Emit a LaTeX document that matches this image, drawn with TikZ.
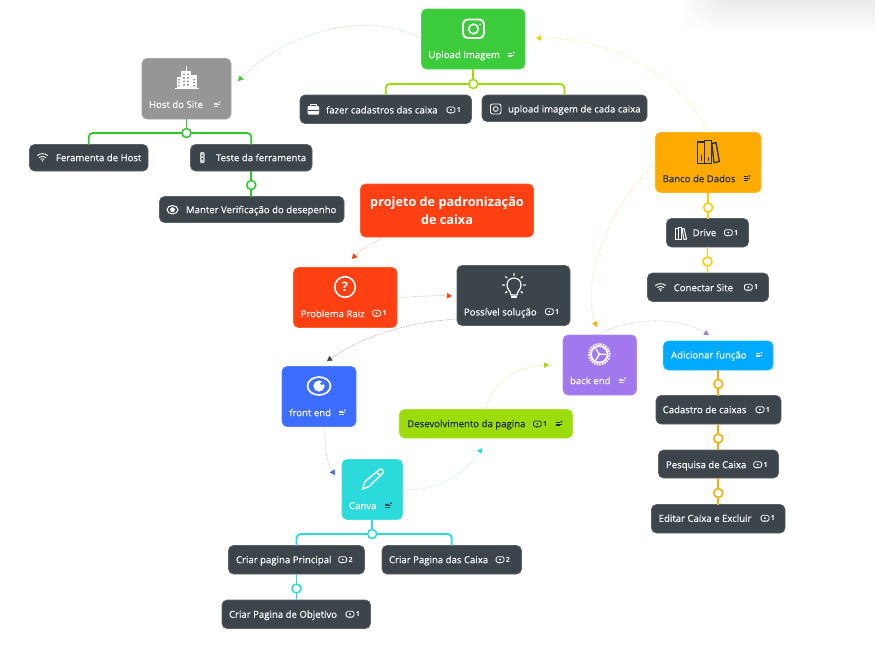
\documentclass[tikz,border=0pt]{standalone}
\usepackage{fontspec}
\setmainfont{Open Sans}
\newfontfamily\labfont[FakeBold=0.25]{Open Sans}
\usetikzlibrary{arrows.meta,calc}
\definecolor{dark}{HTML}{3D454C}
\definecolor{cgreen}{HTML}{3BCB3B}
\definecolor{cgray}{HTML}{969696}
\definecolor{cred}{HTML}{FF4013}
\definecolor{cblue}{HTML}{3D6DFF}
\definecolor{ccyan}{HTML}{2BDADA}
\definecolor{clime}{HTML}{9BDC0A}
\definecolor{cpurple}{HTML}{A178EE}
\definecolor{csky}{HTML}{00AAFF}
\definecolor{corange}{HTML}{FFAA00}
\definecolor{cyellow}{HTML}{FFCC00}
\definecolor{ink}{HTML}{1E2D3A}
\definecolor{tgreen}{HTML}{2CC82C}
\tikzset{
  box/.style={rounded corners=5pt,inner sep=0pt,outer sep=0pt,line width=.7pt},
  lab/.style={inner sep=0pt,outer sep=0pt,anchor=mid west,yshift=-.8pt,text=white,font=\labfont\fontsize{9.6}{11}\selectfont},
  num/.style={inner sep=0pt,outer sep=0pt,anchor=mid,font=\fontsize{7}{8}\selectfont\bfseries},
  junction/.style={circle,draw=#1,fill=white,line width=1.5pt,minimum size=9pt,inner sep=0pt,outer sep=0pt},
  tree/.style={draw=#1,line width=1.8pt,rounded corners=4pt},
  link/.style={draw=#1!45!white,line width=.55pt,dash pattern=on .9pt off .9pt,-{Triangle[length=5pt,width=5.5pt,color=#1,fill=#1]}},
  ic/.style={line width=1.1pt,line cap=round,line join=round},
  notei/.pic={\draw[pic actions,line width=.8pt](-3.2,-1.8)--(.8,-1.8)(-3.2,0)--(2.8,0)(-3.2,1.8)--(1.2,1.8);\fill[pic actions](2.8,-2.4) circle(.7pt);},
  cmti/.pic={\draw[pic actions,line width=.8pt,rounded corners=1.5pt](-3.9,-3)rectangle(3.9,2.8);\fill[pic actions](-1,4)--(1,2.6)--(-1,2.6)--cycle;\fill[pic actions](0,-.1) circle(1pt);},
  wifi/.pic={\draw[ic,white,line width=.9pt](-5,-2) .. controls (-2,-4.5) and (2,-4.5) .. (5,-2);\draw[ic,white,line width=.9pt](-3.3,0) .. controls (-1.5,-1.6) and (1.5,-1.6) .. (3.3,0);\draw[ic,white,line width=.9pt](-1.6,1.8) .. controls (-.7,1) and (.7,1) .. (1.6,1.8);\fill[white](0,3.3) circle(.8pt);},
  smalleye/.pic={\draw[white,line width=1pt](0,0) ellipse(5.5pt and 4.2pt);\fill[white](0,0) circle(2.4pt);},
}
\newcommand{\bx}[6]{%
  \pgfmathsetmacro{\cxx}{(#2+#4)/2}\pgfmathsetmacro{\cyy}{(#3+#5)/2}%
  \pgfmathsetmacro{\www}{#4-#2}\pgfmathsetmacro{\hhh}{#5-#3}%
  \node[box,fill=#6,draw=#6!85!white,minimum width=\www pt,minimum height=\hhh pt] (#1) at (\cxx,\cyy) {};}
\newcommand{\tx}[4]{\node[lab] (#1) at (#2,#3) {#4};}
\newcommand{\cm}[5][white]{\pic[#1] at (#3,#4) {cmti};\pgfmathsetmacro{\nxx}{#3+7.8}\node[num,text=#1] (#2) at (\nxx,#4) {#5};}
\newcommand{\nt}[3][white!80!gray]{\pic[#1,draw=#1,fill=#1] at (#2,#3) {notei};}
\begin{document}
\begin{tikzpicture}[x=1pt,y=-1pt]
\useasboundingbox (0,0) rectangle (875,664);
\fill[white] (0,0) rectangle (875,664);
% faint shadow, top right
\shade[top color=black!8,bottom color=white] (675,0) rectangle (875,34);
\foreach \i in {0,...,19}{\fill[white,opacity=1-\i/20] (675+2.5*\i,0) rectangle +(2.6,34);}
% boxes
\bx{upload}{421.5}{9}{525}{69}{cgreen}
\bx{fazer}{300}{95}{471.5}{123.5}{dark}
\bx{upimg}{482}{95}{647}{121.5}{dark}
\bx{host}{142}{58.5}{231}{119}{cgray}
\bx{ferhost}{29.5}{144.5}{148}{171}{dark}
\bx{teste}{190.5}{144.5}{312}{171}{dark}
\bx{manter}{159.5}{196.5}{344}{222.5}{dark}
\bx{projeto}{360.5}{184}{533.5}{237}{cred}
\bx{problema}{293.5}{267.5}{397}{327.5}{cred}
\bx{solucao}{457}{265.5}{570}{325.5}{dark}
\bx{front}{282}{366.5}{356}{426.5}{cblue}
\bx{canva}{342}{459.5}{402.5}{519.5}{ccyan}
\bx{desenv}{399.5}{409.5}{572.5}{438}{clime}
\bx{back}{563}{335}{636.5}{395}{cpurple}
\bx{adic}{663.5}{341}{773}{370}{csky}
\bx{banco}{655.5}{132.5}{761}{192.5}{corange}
\bx{drive}{666.5}{218.5}{748.5}{247}{dark}
\bx{conectar}{647.5}{273}{768.5}{301.5}{dark}
\bx{cadastro}{656}{395.5}{781}{424}{dark}
\bx{pesquisa}{658.5}{450}{778.5}{478}{dark}
\bx{editar}{651.5}{504.5}{785}{533}{dark}
\bx{cprinc}{228.5}{545.5}{364.5}{574}{dark}
\bx{ccaixa}{382}{545.5}{521.5}{574}{dark}
\bx{cobj}{222}{600}{370.5}{628.5}{dark}
% junctions
\node[junction=clime] (j1) at (upload.south |- 0,84) {};
\node[junction=tgreen] (j2) at (186.5,133) {};
\node[junction=tgreen] (j3) at (teste.south |- 0,185) {};
\node[junction=cyellow] (j4) at (banco.south |- 0,207.5) {};
\node[junction=cyellow] (j5) at (drive.south |- 0,261.5) {};
\node[junction=corange] (j6) at (adic.south |- 0,384) {};
\node[junction=corange] (j7) at (718.3,438.5) {};
\node[junction=corange] (j8) at (718.3,493) {};
\node[junction=ccyan] (j9) at (372.2,534) {};
\node[junction=ccyan] (j10) at (cprinc.south |- 0,588.5) {};
% tree lines
\draw[tree=clime] (upload.south) -- (j1.north);
\draw[tree=clime] (j1.west) -| (fazer.north);
\draw[tree=clime] (j1.east) -| (upimg.north);
\draw[tree=tgreen] (host.south -| j2) -- (j2.north);
\draw[tree=tgreen] (j2.west) -| (ferhost.north);
\draw[tree=tgreen] (j2.east) -| (teste.north);
\draw[tree=tgreen] (teste.south) -- (j3.north) (j3.south) -- (manter.north -| j3);
\draw[tree=cyellow] (banco.south -| j4) -- (j4.north) (j4.south) -- (drive.north -| j4);
\draw[tree=cyellow] (drive.south -| j5) -- (j5.north) (j5.south) -- (conectar.north -| j5);
\draw[tree=corange] (adic.south -| j6) -- (j6.north) (j6.south) -- (cadastro.north -| j6);
\draw[tree=corange] (cadastro.south -| j7) -- (j7.north) (j7.south) -- (pesquisa.north -| j7);
\draw[tree=corange] (pesquisa.south -| j8) -- (j8.north) (j8.south) -- (editar.north -| j8);
\draw[tree=ccyan] (canva.south -| j9) -- (j9.north);
\draw[tree=ccyan] (j9.west) -| (cprinc.north);
\draw[tree=ccyan] (j9.east) -| (ccaixa.north);
\draw[tree=ccyan] (cprinc.south -| j10) -- (j10.north) (j10.south) -- (cobj.north -| j10);
% free ends of the links
\coordinate (e1) at (238,81);
\coordinate (e2) at (536,38);
\coordinate (e3) at (596.5,327);
\coordinate (e4) at (709,335);
\coordinate (e5) at (352,259);
\coordinate (e6) at (452,296);
\coordinate (e7) at (327,361);
\coordinate (e8) at (335,475);
\coordinate (e9) at (482,448);
\coordinate (e10) at (549,365);
% links
\draw[link=cgreen] (upload.west) .. controls (375,12) and (295,25) .. (e1);
\draw[link=cyellow] (banco.north) .. controls (680,75) and (610,37) .. (e2);
\draw[link=corange] (banco.west) .. controls (610,205) and (580,280) .. (e3);
\draw[link=cpurple] ([xshift=-3.5pt]back.north) .. controls (630,318) and (675,315) .. (e4);
\draw[link=cred] ([xshift=-63pt]projeto.south) .. controls (372,243) and (360,250) .. (e5);
\draw[link=cred] (problema.east) .. controls (415,297) and (435,295) .. (e6);
\draw[link=dark] ([yshift=-23.5pt]solucao.west) .. controls (410,322) and (365,335) .. (e7);
\draw[link=cblue] ([xshift=6pt]front.south) .. controls (325,445) and (326,462) .. (e8);
\draw[link=ccyan] (canva.east) .. controls (435,492) and (465,475) .. (e9);
\draw[link=clime] (desenv.north) .. controls (490,385) and (515,366) .. (e10);
% texts
\tx{tupload}{428.5}{54.7}{Upload Imagem}
\tx{tfazer}{326}{110}{fazer cadastros das caixa}
\tx{tupimg}{508}{109}{upload imagem de cada caixa}
\tx{thost}{149}{104.5}{Host do Site}
\tx{tferhost}{56}{157.7}{Feramenta de Host}
\tx{tteste}{216}{157.7}{Teste da ferramenta}
\tx{tmanter}{186}{209.7}{Manter Verificação do desepenho}
\node[inner sep=0pt,text=white,align=center,font=\fontsize{12.7}{18}\selectfont\bfseries] (tprojeto) at (projeto) {projeto de padronização\\de caixa};
\tx{tproblema}{300.7}{313.7}{Problema Raiz}
\tx{tsolucao}{464}{312}{Possível solução}
\tx{tfront}{289.3}{412.7}{front end}
\tx{tcanva}{349}{505.7}{Canva}
\node[lab,text=ink] (tdesenv) at (407.3,423.7) {Desevolvimento da pagina};
\tx{tback}{570}{380.7}{back end}
\tx{tadic}{671}{355}{Adicionar função}
\node[lab,text=ink] (tbanco) at (662.7,178.7) {Banco de Dados};
\tx{tdrive}{692.7}{232.7}{Drive}
\tx{tconectar}{673.7}{287.7}{Conectar Site}
\tx{tcadastro}{662.7}{409.7}{Cadastro de caixas}
\tx{tpesquisa}{666}{464.7}{Pesquisa de Caixa}
\tx{teditar}{658.7}{518.3}{Editar Caixa e Excluir}
\tx{tcprinc}{236}{559.7}{Criar pagina Principal}
\tx{tccaixa}{389}{559.7}{Criar Pagina das Caixa}
\tx{tcobj}{229}{614.3}{Criar Pagina de Objetivo}
% comment markers
\cm{n1}{451}{110}{1}
\cm{n2}{376.7}{313.3}{1}
\cm{n3}{549.3}{311.7}{1}
\cm{n4}{728.3}{232.7}{1}
\cm{n5}{748.3}{287.3}{1}
\cm{n6}{760}{409.7}{1}
\cm{n7}{757.7}{464.7}{1}
\cm{n8}{765}{518.3}{1}
\cm[ink]{n9}{537.3}{424}{1}
\cm{n10}{342.7}{559.7}{2}
\cm{n11}{500}{559.7}{2}
\cm{n12}{350}{614.3}{1}
% note markers
\nt{511}{55}
\nt{216.7}{104.7}
\nt[ink]{746.7}{178.3}
\nt{622.3}{380.7}
\nt{758.7}{355}
\nt{342.3}{412.7}
\nt[ink!80!ccyan]{388.3}{505.7}
\nt[ink]{558.7}{424}
% camera
\draw[white,line width=1.9pt,rounded corners=4.5pt] (463,19.5) rectangle (484,38);
\draw[white,line width=1.7pt] (473.5,29) circle(4.8pt);
\fill[white] (480,24.5) circle(1pt);
% building
\fill[white] (181,70.5) rectangle (191,88);
\fill[white] (185.5,66) rectangle (186.5,71);
\fill[white] (176.5,77) rectangle (181,88);
\fill[white] (191,75) rectangle (197,88);
\draw[white,line width=.8pt] (174.5,88.7) -- (198.5,88.7);
\foreach \yy in {73.5,77,80.5,84}{\fill[cgray] (183,\yy) rectangle +(1.8,1.5) (187,\yy) rectangle +(1.8,1.5);}
\foreach \yy in {79,82,85}{\fill[cgray] (178,\yy) rectangle +(1.6,1.3) (193,\yy) rectangle +(2,1.3);}
% briefcase
\fill[white,rounded corners=1pt] (307.5,106) rectangle (319,114.5);
\draw[white,line width=.9pt] (310.5,106) -- (310.5,104) -- (316,104) -- (316,106);
\draw[dark,line width=.6pt] (307.5,110) -- (319,110);
% small camera
\draw[white,line width=.9pt,rounded corners=2pt] (490.5,104) rectangle (501,114);
\draw[white,line width=.8pt] (495.8,109) circle(2.4pt);
% wifi
\pic at (42.5,157.5) {wifi};
\pic at (660.5,287.5) {wifi};
% test tube / traffic light
\fill[white!75!dark,rounded corners=1pt] (200,152) rectangle (204.5,163);
\fill[dark] (201.5,154.5) rectangle (203,156) (201.5,158) rectangle (203,159.5);
% eyes
\pic at (172.5,209.7) {smalleye};
\draw[white,line width=1.7pt] (319,386) ellipse(11.5pt and 9pt);
\fill[white] (319,386) circle(5.6pt);
\fill[cblue] (322,383.5) circle(1.8pt);
% question
\draw[white,line width=1.6pt] (345,287) circle(10.3pt);
\node[inner sep=0pt,text=white,font=\fontsize{13}{13}\selectfont\bfseries] (tq) at (345,287) {?};
% bulb
\draw[ic,white,line width=1.2pt] (511,295) .. controls (510.5,290.5) and (507,289.5) .. (507,285) .. controls (507,275.7) and (521,275.7) .. (521,285) .. controls (521,289.5) and (517.5,290.5) .. (517,295) -- cycle;
\draw[ic,white,line width=1.2pt] (511.5,297) -- (516.5,297);
\draw[ic,white,line width=1.1pt] (514,273.5) -- (514,275.5) (502.5,285) -- (504.5,285) (525.5,285) -- (523.5,285) (505.5,276.5) -- (507,278) (522.5,276.5) -- (521,278) (505.5,293) -- (507,291.5) (522.5,293) -- (521,291.5);
% gear
\draw[white,line width=1.8pt,dash pattern=on 1.6pt off 1.1pt] (599.3,354.3) circle(10.4pt);
\draw[white,line width=1.8pt] (599.3,354.3) circle(8.3pt);
\fill[white] (599.3,354.3) circle(1.6pt);
\draw[ic,white,line width=1.3pt] (599.3,354.3) -- (605.5,354.3) (599.3,354.3) -- (596,348.8) (599.3,354.3) -- (596,359.8);
% books
\draw[ic,ink,line width=1.3pt] (697.8,142) rectangle (704.8,163.5) (704.8,140.5) rectangle (711.5,163.5);
\draw[ic,ink,line width=1.3pt] (711.8,143.5) -- (716,142.5) -- (719.3,161.5) -- (714,162.8) -- cycle;
\draw[ink,line width=.8pt] (701,155) -- (701,160.5) (708,157) -- (708,160.5);
% small books
\draw[white,line width=1pt] (675,228) rectangle (678,239.5) (678,227) rectangle (681.5,239.5);
\draw[white,line width=1pt] (682,229) -- (684,228.5) -- (686.5,239) -- (684,239.5) -- cycle;
% pencil
\draw[ic,white,line width=1.4pt] (362.5,489) -- (365,481.5) -- (379.5,469.5) .. controls (382,468) and (384,471) .. (383,473) -- (369,486.5) -- cycle;
\draw[ic,white,line width=1.2pt] (376.5,472) -- (381,476);
\end{tikzpicture}
\end{document}
